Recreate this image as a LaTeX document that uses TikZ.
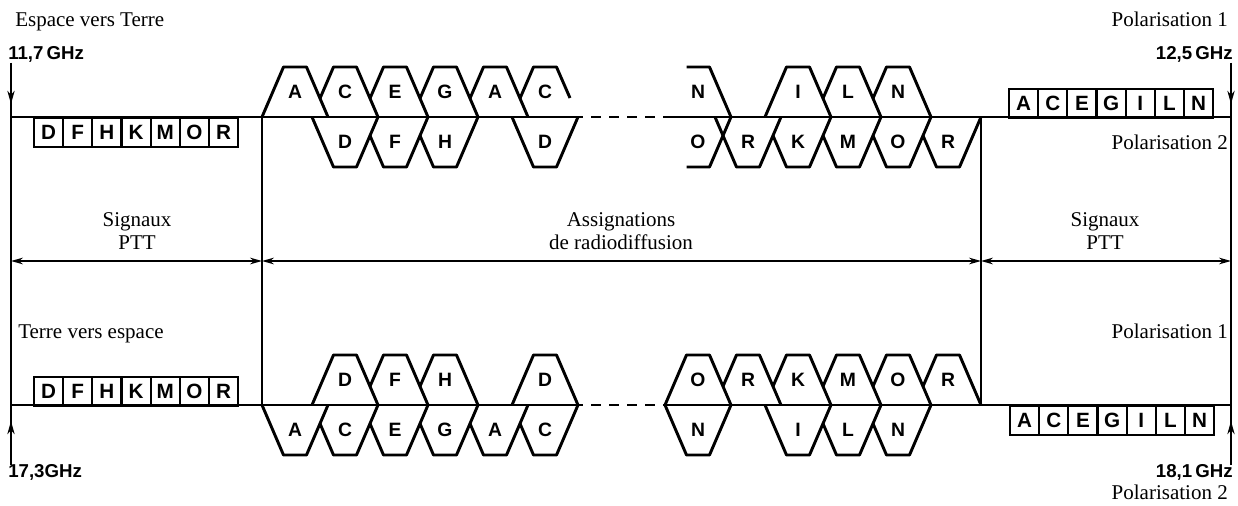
\documentclass[tikz,border=0pt]{standalone}
\usepackage{fontspec}
\setmainfont{Liberation Serif}
\newfontfamily\sansbold{Liberation Sans}
\usetikzlibrary{arrows.meta}

% channel trapezoid standing on the line: name, centre x, line y, letter
\newcommand\chup[4]{%
  \filldraw[chan] ({#2-33},#3) -- ({#2-11.5},{#3-50}) -- ({#2+11.5},{#3-50}) -- ({#2+33},#3);
  \node[chlab] (#1) at (#2,{#3-25}) {#4};}
% channel trapezoid hanging below the line
\newcommand\chdn[4]{%
  \filldraw[chan] ({#2-33},#3) -- ({#2-11.5},{#3+50}) -- ({#2+11.5},{#3+50}) -- ({#2+33},#3);
  \node[chlab] (#1) at (#2,{#3+25}) {#4};}
% row of lettered cells: name prefix, left x, top y, letters
\newcommand\cellrow[4]{%
  \foreach \l [count=\i from 0] in {#4}
    \node[cell] (#1-\i) at ({#2+29.14*\i},#3) {\l};}

\begin{document}
\begin{tikzpicture}[x=0.75pt,y=-0.75pt,
  chan/.style={line width=2.2pt,fill=white,line join=round},
  chlab/.style={font=\sansbold\bfseries\fontsize{14.5}{15}\selectfont,inner sep=0pt},
  cell/.style={draw,line width=1.6pt,minimum width=21.86pt,minimum height=21.75pt,
    inner sep=0pt,anchor=north west,font=\sansbold\bfseries\fontsize{15.5}{16}\selectfont},
  mainline/.style={line width=2.2pt},
  gap/.style={line width=2.2pt,dash pattern=on 7.5pt off 6pt,dash phase=7.5pt},
  frame/.style={line width=1.2pt},
  vtip/.style={line width=1.2pt,-{Stealth[length=10pt,width=5.5pt]}},
  dim/.style={line width=1.2pt,{Stealth[length=9pt,width=5pt]}-{Stealth[length=9pt,width=5pt]}},
  freq/.style={font=\sansbold\bfseries\fontsize{14}{15}\selectfont,inner sep=0pt},
  note/.style={font=\fontsize{15.75}{17.25}\selectfont,inner sep=0pt},
  pair/.style={note,align=center},
]
\useasboundingbox (0,0) rectangle (1238,506);

% ---------- frame coordinates ----------
\coordinate (ltop) at (11,63);   \coordinate (lbot) at (11,465);
\coordinate (rtop) at (1231,63); \coordinate (rbot) at (1231,465);
\coordinate (ltipa) at (11,104); \coordinate (ltipb) at (11,421);
\coordinate (rtipa) at (1231,104); \coordinate (rtipb) at (1231,421);
\coordinate (a1) at (262,117); \coordinate (a2) at (262,405);
\coordinate (b1) at (981,117); \coordinate (b2) at (981,405);
\coordinate (lineTL) at (11,117);  \coordinate (lineTR) at (1231,117);
\coordinate (lineBL) at (11,405);  \coordinate (lineBR) at (1231,405);
\coordinate (dashTa) at (583,117); \coordinate (dashTb) at (663,117);
\coordinate (dashBa) at (583,405); \coordinate (dashBb) at (663,405);
\coordinate (m0) at (11,261); \coordinate (m1) at (262,261);
\coordinate (m2) at (981,261); \coordinate (m3) at (1231,261);

% ---------- Espace vers Terre : channels ----------
% Polarisation 1 (above the line), right to left so the left ones overlap
\chup{tu10}{898}{117}{N}
\chup{tu9}{848}{117}{L}
\chup{tu8}{798}{117}{I}
\draw[line width=2.2pt,line join=round] (686.5,67) -- (709.5,67) -- (731,117);
\node[chlab] (tu7) at (698,92) {N};
\filldraw[chan] (512,117) -- (533.5,67) -- (556.5,67) -- (570,98);
\node[chlab] (tu6) at (545,92) {C};
\chup{tu5}{495}{117}{A}
\chup{tu4}{445}{117}{G}
\chup{tu3}{395}{117}{E}
\chup{tu2}{345}{117}{C}
\chup{tu1}{295}{117}{A}
% Polarisation 2 (below the line)
\chdn{td10}{948}{117}{R}
\chdn{td9}{898}{117}{O}
\chdn{td8}{848}{117}{M}
\chdn{td7}{798}{117}{K}
\chdn{td6}{748}{117}{R}
\draw[line width=2.2pt,line join=round] (686.5,167) -- (709.5,167) -- (731,117);
\node[chlab] (td5) at (698,142) {O};
\chdn{td4}{545}{117}{D}
\chdn{td3}{445}{117}{H}
\chdn{td2}{395}{117}{F}
\chdn{td1}{345}{117}{D}

% ---------- Terre vers espace : channels ----------
\chup{bu10}{948}{405}{R}
\chup{bu9}{898}{405}{O}
\chup{bu8}{848}{405}{M}
\chup{bu7}{798}{405}{K}
\chup{bu6}{748}{405}{R}
\chup{bu5}{698}{405}{O}
\chup{bu4}{545}{405}{D}
\chup{bu3}{445}{405}{H}
\chup{bu2}{395}{405}{F}
\chup{bu1}{345}{405}{D}
\chdn{bd10}{898}{405}{N}
\chdn{bd9}{848}{405}{L}
\chdn{bd8}{798}{405}{I}
\chdn{bd7}{698}{405}{N}
\chdn{bd6}{545}{405}{C}
\chdn{bd5}{495}{405}{A}
\chdn{bd4}{445}{405}{G}
\chdn{bd3}{395}{405}{E}
\chdn{bd2}{345}{405}{C}
\chdn{bd1}{295}{405}{A}

% ---------- band lines ----------
\draw[mainline] (lineTL) -- (dashTa);
\draw[gap] (dashTa) -- (dashTb);
\draw[mainline] (dashTb) -- (lineTR);
\draw[mainline] (lineBL) -- (dashBa);
\draw[gap] (dashBa) -- (dashBb);
\draw[mainline] (dashBb) -- (lineBR);

% ---------- frame ----------
\draw[frame] (ltop) -- (lbot);
\draw[frame] (rtop) -- (rbot);
\draw[frame] (a1) -- (a2);
\draw[frame] (b1) -- (b2);
\draw[vtip] (ltop) -- (ltipa);
\draw[vtip] (rtop) -- (rtipa);
\draw[vtip] (lbot) -- (ltipb);
\draw[vtip] (rbot) -- (rtipb);
\draw[dim] (m0) -- (m1);
\draw[dim] (m1) -- (m2);
\draw[dim] (m2) -- (m3);

% ---------- PTT signal cells ----------
\cellrow{ctl}{33}{117}{D,F,H,K,M,O,R}
\cellrow{ctr}{1008}{88}{A,C,E,G,I,L,N}
\cellrow{cbl}{33}{376}{D,F,H,K,M,O,R}
\cellrow{cbr}{1009}{405}{A,C,E,G,I,L,N}

% ---------- labels ----------
\node[note,anchor=base west] (dir1) at (15,27) {Espace vers Terre};
\node[freq,anchor=base west] (f1) at (8,60) {11,7\,GHz};
\node[note,anchor=base east] (p1a) at (1228,27) {Polarisation 1};
\node[freq,anchor=base east] (f2) at (1233,60) {12,5\,GHz};
\node[note,anchor=base east] (p2a) at (1228,150) {Polarisation 2};

\node[pair] (s1) at (137,231) {Signaux\\PTT};
\node[pair] (s2) at (621,231) {Assignations\\de radiodiffusion};
\node[pair] (s3) at (1105,231) {Signaux\\PTT};

\node[note,anchor=base west] (dir2) at (18,338) {Terre vers espace};
\node[note,anchor=base east] (p1b) at (1228,338) {Polarisation 1};
\node[freq,anchor=base west] (f3) at (8,477) {17,3GHz};
\node[freq,anchor=base east] (f4) at (1233,477) {18,1\,GHz};
\node[note,anchor=base east] (p2b) at (1228,499) {Polarisation 2};
\end{tikzpicture}
\end{document}
